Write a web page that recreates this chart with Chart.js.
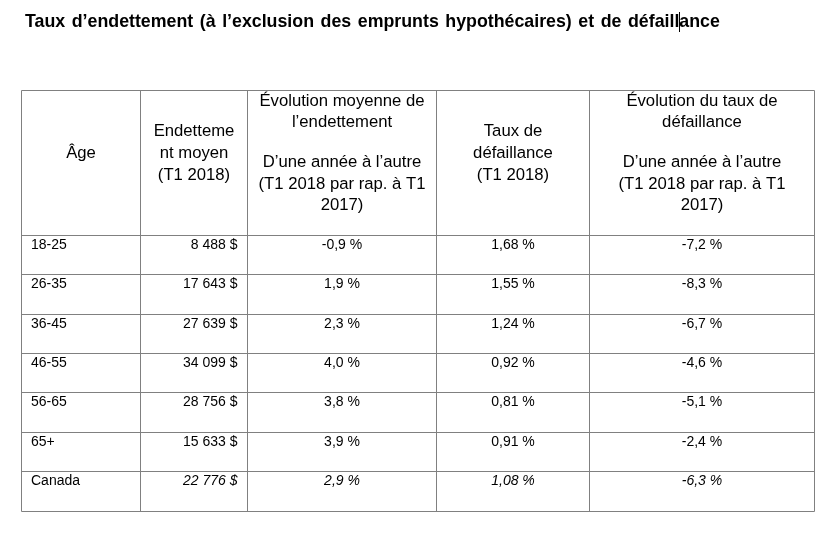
<!DOCTYPE html>
<html lang="fr">
<head>
<meta charset="utf-8">
<title>Taux d’endettement et de défaillance</title>
<script src="https://cdn.jsdelivr.net/npm/chart.js@4.4.1/dist/chart.umd.min.js"></script>
<style>
  html, body { margin: 0; padding: 0; background: #ffffff; }
  #wrap { width: 840px; height: 535px; }
</style>
</head>
<body>
<div id="wrap"><canvas id="debtTable" width="840" height="535"></canvas></div>
<script>
// Table data (T1 2018)
const ages = ['18-25', '26-35', '36-45', '46-55', '56-65', '65+', 'Canada'];
const avgDebt = [8488, 17643, 27639, 34099, 28756, 15633, 22776];
const debtChange = [-0.9, 1.9, 2.3, 4.0, 3.8, 3.9, 2.9];
const delinquencyRate = [1.68, 1.55, 1.24, 0.92, 0.81, 0.91, 1.08];
const delinquencyChange = [-7.2, -8.3, -6.7, -4.6, -5.1, -2.4, -6.3];

const title = 'Taux d’endettement (à l’exclusion des emprunts hypothécaires) et de défaillance';
const headers = [
  ['Âge'],
  ['Endetteme', 'nt moyen', '(T1 2018)'],
  ['Évolution moyenne de', 'l’endettement', '', 'D’une année à l’autre', '(T1 2018 par rap. à T1', '2017)'],
  ['Taux de', 'défaillance', '(T1 2018)'],
  ['Évolution du taux de', 'défaillance', '', 'D’une année à l’autre', '(T1 2018 par rap. à T1', '2017)']
];

// column edges in x-scale units
const colEdges = [0, 119, 226, 415, 568, 793];

const FONT = '"Liberation Sans", Arial, sans-serif';
const LINE = '#808080';

function fmtMoney(v) {
  return String(v).replace(/\B(?=(\d{3})+(?!\d))/g, ' ') + ' $';
}
function fmtPct(v, d) {
  return v.toFixed(d).replace('.', ',') + ' %';
}

const columns = [
  { align: 'left', text: i => ages[i] },
  { align: 'right', text: i => fmtMoney(avgDebt[i]) },
  { align: 'center', text: i => fmtPct(debtChange[i], 1) },
  { align: 'center', text: i => fmtPct(delinquencyRate[i], 2) },
  { align: 'center', text: i => fmtPct(delinquencyChange[i], 1) }
];

const tablePlugin = {
  id: 'tablePlugin',
  afterDraw(chart) {
    const { ctx, chartArea, scales: { x, y } } = chart;
    const band = (chartArea.bottom - chartArea.top) / ages.length;
    const headTop = 90;
    const px = v => Math.floor(v) + 0.5;

    ctx.save();

    // title
    ctx.fillStyle = '#000';
    ctx.font = 'bold 17.8px ' + FONT;
    ctx.textAlign = 'left';
    ctx.textBaseline = 'alphabetic';
    ctx.wordSpacing = '1.6px';
    ctx.fillText(title, 25, 27.3);
    // text cursor left in the source document (after "défaill")
    const cut = title.indexOf('défaill') + 'défaill'.length;
    const cursorX = 25 + ctx.measureText(title.slice(0, cut)).width;
    ctx.wordSpacing = '0px';
    ctx.fillRect(Math.round(cursorX), 12, 1, 20);

    // grid
    ctx.strokeStyle = LINE;
    ctx.lineWidth = 1;
    ctx.beginPath();
    colEdges.forEach(e => {
      const xp = px(x.getPixelForValue(e));
      ctx.moveTo(xp, px(headTop));
      ctx.lineTo(xp, px(chartArea.bottom));
    });
    const xl = px(x.getPixelForValue(colEdges[0]));
    const xr = px(x.getPixelForValue(colEdges[colEdges.length - 1]));
    ctx.moveTo(xl, px(headTop));
    ctx.lineTo(xr, px(headTop));
    for (let i = 0; i <= ages.length; i++) {
      const yp = px(y.getPixelForValue(Math.min(i, ages.length - 1)) + (i === ages.length ? band / 2 : -band / 2));
      ctx.moveTo(xl, yp);
      ctx.lineTo(xr, yp);
    }
    ctx.stroke();

    // header
    ctx.fillStyle = '#000';
    ctx.font = '16.7px ' + FONT;
    ctx.textAlign = 'center';
    const lineH = 21.7, gapH = 17.9, mid = headTop + 68;
    headers.forEach((lines, c) => {
      const cx = x.getPixelForValue((colEdges[c] + colEdges[c + 1]) / 2);
      const base = [];
      let acc = 0;
      lines.forEach((t, k) => {
        if (k > 0) acc += lines[k - 1] === '' ? gapH : lineH;
        base.push(t === '' ? null : acc);
      });
      const vals = base.filter(b => b !== null);
      const off = mid - (vals[0] + vals[vals.length - 1]) / 2;
      lines.forEach((t, k) => {
        if (t !== '') ctx.fillText(t, cx, base[k] + off);
      });
    });

    // body cells (the Canada row is italic, except its label)
    ages.forEach((age, i) => {
      const rowTop = y.getPixelForValue(i) - band / 2;
      const italic = i === ages.length - 1;
      columns.forEach((col, c) => {
        let tx;
        if (col.align === 'left') tx = x.getPixelForValue(colEdges[c]) + 9.5;
        else if (col.align === 'right') tx = x.getPixelForValue(colEdges[c + 1]) - 10;
        else tx = x.getPixelForValue((colEdges[c] + colEdges[c + 1]) / 2);
        ctx.textAlign = col.align;
        ctx.font = (italic && c > 0 ? 'italic ' : '') + '14px ' + FONT;
        ctx.fillText(col.text(i), tx, rowTop + 13.5);
      });
    });

    ctx.restore();
  }
};

new Chart(document.getElementById('debtTable'), {
  type: 'scatter',
  data: { labels: ages, datasets: [] },
  options: {
    responsive: false,
    animation: false,
    devicePixelRatio: 1,
    layout: { padding: { left: 21.5, right: 25.5, top: 235.3, bottom: 24 } },
    plugins: { legend: { display: false }, tooltip: { enabled: false }, title: { display: false } },
    scales: {
      x: { type: 'linear', min: colEdges[0], max: colEdges[colEdges.length - 1], display: false },
      y: { type: 'category', labels: ages, offset: true, display: false }
    }
  },
  plugins: [tablePlugin]
});
</script>
</body>
</html>
